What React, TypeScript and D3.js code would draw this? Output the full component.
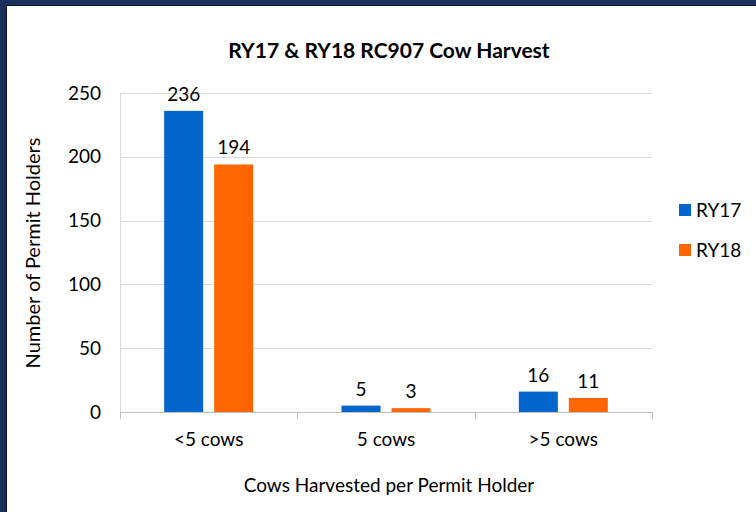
import React from "react";
import * as d3 from "d3";

const categories = ["<5 cows", "5 cows", ">5 cows"];
const seriesNames = ["RY17", "RY18"];
const ry17 = [236, 5, 16];
const ry18 = [194, 3, 11];
const yTicks = [0, 50, 100, 150, 200, 250];
const colors = ["#0066CC", "#FF6600"];

const W = 756;
const H = 512;
const FONT = "Lato, 'Open Sans', sans-serif";

export default function App() {
  const left = 120, right = 652, top = 93, bottom = 412;
  const x = d3.scaleBand<string>().domain(categories).range([left, right]).paddingInner(0).paddingOuter(0);
  const y = d3.scaleLinear().domain([0, 250]).range([bottom, top]);
  const barW = 39;
  const gap = 11;
  const series = [ry17, ry18];

  return (
    <svg width={W} height={H} style={{ position: "absolute", left: 0, top: 0, background: "#fff" }} fontFamily={FONT}>
      <rect x={0} y={0} width={W} height={H} fill="#fff" />
      {/* frame */}
      <rect x={0} y={0} width={W} height={6} fill="#1B2F5C" />
      <rect x={0} y={0} width={7} height={H} fill="#1B2F5C" />
      <line x1={6} x2={W} y1={5.5} y2={5.5} stroke="#0d1424" strokeWidth={1} />
      <line x1={6.5} x2={6.5} y1={6} y2={H} stroke="#0d1424" strokeWidth={1} />

      <text x={389} y={57.5} textAnchor="middle" fontSize={21} fontWeight="bold" fill="#000">
        RY17 &amp; RY18 RC907 Cow Harvest
      </text>

      {/* gridlines */}
      {yTicks.filter((t) => t > 0).map((t) => (
        <line key={t} x1={left} x2={right} y1={Math.round(y(t)) + 0.5} y2={Math.round(y(t)) + 0.5} stroke="#D9D9D9" strokeWidth={1} />
      ))}
      {/* y axis line */}
      <line x1={left + 0.5} x2={left + 0.5} y1={top} y2={bottom + 7} stroke="#D9D9D9" />
      {/* x axis */}
      <line x1={left} x2={right} y1={bottom + 0.5} y2={bottom + 0.5} stroke="#BFBFBF" />
      {[...categories.map((c) => x(c)!), right].map((v, i) => (
        <line key={i} x1={Math.round(v) + 0.5} x2={Math.round(v) + 0.5} y1={bottom} y2={bottom + 7} stroke="#BFBFBF" />
      ))}

      {yTicks.map((t) => (
        <text key={t} x={101} y={y(t)} dy="0.35em" textAnchor="end" fontSize={19} fill="#000">
          {t}
        </text>
      ))}

      {categories.map((c, ci) => {
        const cx = x(c)! + x.bandwidth() / 2;
        return (
          <g key={c}>
            {series.map((s, si) => {
              const bx = si === 0 ? cx - gap / 2 - barW : cx + gap / 2;
              const by = y(s[ci]);
              return (
                <g key={si}>
                  <rect x={bx} y={by} width={barW} height={bottom - by} fill={colors[si]} />
                  <text x={bx + barW / 2} y={by - 10} textAnchor="middle" fontSize={19} fill="#000">
                    {s[ci]}
                  </text>
                </g>
              );
            })}
            <text x={cx} y={446} textAnchor="middle" fontSize={19} fill="#000">
              {c}
            </text>
          </g>
        );
      })}

      <text x={389} y={492} textAnchor="middle" fontSize={19} fill="#000">
        Cows Harvested per Permit Holder
      </text>
      <text transform={`translate(40,253) rotate(-90)`} textAnchor="middle" fontSize={20} fill="#000">
        Number of Permit Holders
      </text>

      {seriesNames.map((n, i) => (
        <g key={n}>
          <rect x={679} y={204 + i * 40} width={12} height={12} fill={colors[i]} />
          <text x={696} y={216.5 + i * 40} fontSize={19} fill="#000">
            {n}
          </text>
        </g>
      ))}
    </svg>
  );
}
